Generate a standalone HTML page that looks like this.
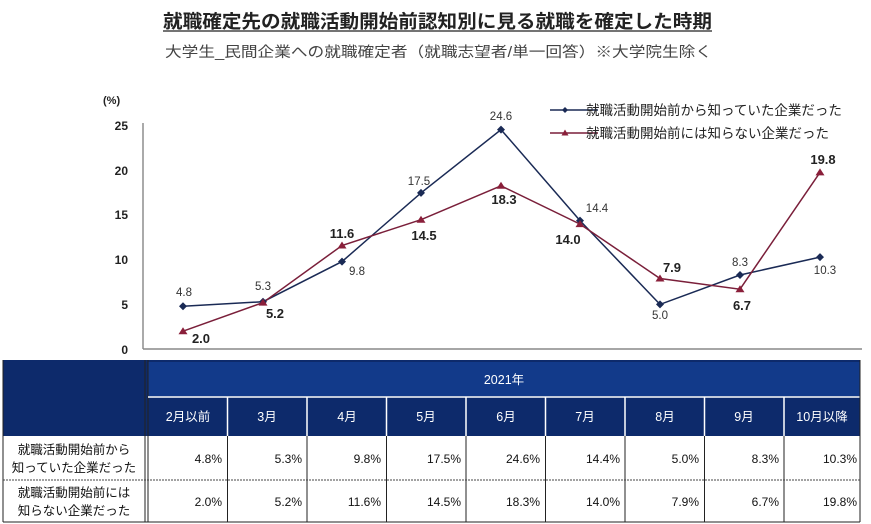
<!DOCTYPE html>
<html><head><meta charset="utf-8"><style>
body{margin:0;background:#fff;width:871px;height:524px;overflow:hidden;font-family:"Liberation Sans","Noto Sans CJK JP",sans-serif;}
svg{position:absolute;left:0;top:0}
</style></head><body>
<svg width="871" height="524" viewBox="0 0 871 524" font-family="Liberation Sans, Noto Sans CJK JP, sans-serif">
<text x="163" y="28" font-size="18.5" font-weight="bold" fill="#222" textLength="549" lengthAdjust="spacingAndGlyphs">就職確定先の就職活動開始前認知別に見る就職を確定した時期</text>
<line x1="163" y1="31" x2="712" y2="31" stroke="#222" stroke-width="1.2"/>
<text x="165" y="57" font-size="14.5" fill="#444" textLength="547" lengthAdjust="spacingAndGlyphs">大学生_民間企業への就職確定者（就職志望者/単一回答）※大学院生除く</text>
<text x="103" y="104" font-size="11" font-weight="bold" fill="#222">(%)</text>
<g font-size="12" font-weight="bold" fill="#222" text-anchor="end">
<text x="128" y="130">25</text><text x="128" y="175">20</text><text x="128" y="219">15</text><text x="128" y="264">10</text><text x="128" y="309">5</text><text x="128" y="354">0</text>
</g>
<line x1="143" y1="123" x2="143" y2="349" stroke="#555" stroke-width="1"/>
<line x1="143" y1="349" x2="862" y2="349" stroke="#888" stroke-width="1.5"/>
<polyline fill="none" stroke="#1a2a55" stroke-width="1.5" points="183,306.2 263,301.7 342,261.6 421,192.9 501,129.6 580,220.6 660,304.4 740,275 820,257.1"/>
<polyline fill="none" stroke="#7a1f3a" stroke-width="1.5" points="183,331.2 263,302.6 342,245.5 421,219.7 501,185.8 580,224.1 660,278.5 740,289.2 820,172.4"/>
<g fill="#1a2a55">
<path d="M183 302.2l4 4-4 4-4-4z"/><path d="M263 297.7l4 4-4 4-4-4z"/><path d="M342 257.6l4 4-4 4-4-4z"/><path d="M421 188.9l4 4-4 4-4-4z"/><path d="M501 125.6l4 4-4 4-4-4z"/><path d="M580 216.6l4 4-4 4-4-4z"/><path d="M660 300.4l4 4-4 4-4-4z"/><path d="M740 271l4 4-4 4-4-4z"/><path d="M820 253.1l4 4-4 4-4-4z"/>
</g>
<g fill="#8a1f3a">
<path d="M183 327.2l4.5 7h-9z"/><path d="M263 298.6l4.5 7h-9z"/><path d="M342 241.5l4.5 7h-9z"/><path d="M421 215.7l4.5 7h-9z"/><path d="M501 181.8l4.5 7h-9z"/><path d="M580 220.1l4.5 7h-9z"/><path d="M660 274.5l4.5 7h-9z"/><path d="M740 285.2l4.5 7h-9z"/><path d="M820 168.4l4.5 7h-9z"/>
</g>
<g font-size="11.5" fill="#333" text-anchor="middle">
<text x="184" y="296">4.8</text><text x="263" y="290">5.3</text><text x="357" y="275">9.8</text><text x="419" y="185">17.5</text><text x="501" y="120">24.6</text><text x="597" y="212">14.4</text><text x="660" y="319">5.0</text><text x="740" y="266">8.3</text><text x="825" y="274">10.3</text>
</g>
<g font-size="13" font-weight="bold" fill="#222" text-anchor="middle">
<text x="201" y="343">2.0</text><text x="275" y="318">5.2</text><text x="342" y="238">11.6</text><text x="424" y="240">14.5</text><text x="504" y="204">18.3</text><text x="568" y="244">14.0</text><text x="672" y="272">7.9</text><text x="742" y="310">6.7</text><text x="823" y="164">19.8</text>
</g>
<line x1="550" y1="110" x2="598" y2="110" stroke="#1a2a55" stroke-width="1.5"/><path d="M565 107l3 3-3 3-3-3z" fill="#1a2a55"/>
<line x1="550" y1="133" x2="598" y2="133" stroke="#7a1f3a" stroke-width="1.5"/><path d="M565 129.5l3.5 6h-7z" fill="#8a1f3a"/>
<text x="586" y="115" font-size="13.5" fill="#222">就職活動開始前から知っていた企業だった</text>
<text x="586" y="138" font-size="13.5" fill="#222">就職活動開始前には知らない企業だった</text>
<rect x="3" y="360" width="857" height="76" fill="#0d2a6b"/>
<rect x="148" y="362" width="712" height="34" fill="#123a8a"/>
<line x1="145" y1="360" x2="145" y2="522" stroke="#222" stroke-width="1"/>
<line x1="148" y1="360" x2="148" y2="522" stroke="#222" stroke-width="1"/>
<line x1="148" y1="397" x2="860" y2="397" stroke="#fff" stroke-width="1.5"/>
<g stroke="#fff" stroke-width="1.5">
<line x1="227.5" y1="397" x2="227.5" y2="436"/><line x1="307" y1="397" x2="307" y2="436"/><line x1="386.5" y1="397" x2="386.5" y2="436"/><line x1="466" y1="397" x2="466" y2="436"/><line x1="545.5" y1="397" x2="545.5" y2="436"/><line x1="625" y1="397" x2="625" y2="436"/><line x1="704.5" y1="397" x2="704.5" y2="436"/><line x1="784" y1="397" x2="784" y2="436"/>
</g>
<g stroke="#222" stroke-width="1">
<line x1="227.5" y1="436" x2="227.5" y2="522"/><line x1="307" y1="436" x2="307" y2="522"/><line x1="386.5" y1="436" x2="386.5" y2="522"/><line x1="466" y1="436" x2="466" y2="522"/><line x1="545.5" y1="436" x2="545.5" y2="522"/><line x1="625" y1="436" x2="625" y2="522"/><line x1="704.5" y1="436" x2="704.5" y2="522"/><line x1="784" y1="436" x2="784" y2="522"/>
<line x1="860" y1="360" x2="860" y2="522"/><line x1="3" y1="360" x2="3" y2="522"/><line x1="3" y1="522" x2="860" y2="522"/>
</g>
<line x1="3" y1="480" x2="860" y2="480" stroke="#444" stroke-width="1" stroke-dasharray="2,1"/>
<text x="504" y="384" font-size="12.5" fill="#fff" text-anchor="middle">2021年</text>
<g font-size="12.5" fill="#fff" text-anchor="middle">
<text x="188" y="421">2月以前</text><text x="267" y="421">3月</text><text x="347" y="421">4月</text><text x="426" y="421">5月</text><text x="506" y="421">6月</text><text x="585" y="421">7月</text><text x="665" y="421">8月</text><text x="744" y="421">9月</text><text x="822" y="421">10月以降</text>
</g>
<g font-size="12.5" fill="#111" text-anchor="middle">
<text x="74" y="454">就職活動開始前から</text><text x="74" y="472">知っていた企業だった</text>
<text x="74" y="497">就職活動開始前には</text><text x="74" y="515">知らない企業だった</text>
</g>
<g font-size="12" fill="#111" text-anchor="end">
<text x="222" y="463">4.8%</text><text x="302" y="463">5.3%</text><text x="381" y="463">9.8%</text><text x="461" y="463">17.5%</text><text x="540" y="463">24.6%</text><text x="620" y="463">14.4%</text><text x="699" y="463">5.0%</text><text x="779" y="463">8.3%</text><text x="857" y="463">10.3%</text>
<text x="222" y="506">2.0%</text><text x="302" y="506">5.2%</text><text x="381" y="506">11.6%</text><text x="461" y="506">14.5%</text><text x="540" y="506">18.3%</text><text x="620" y="506">14.0%</text><text x="699" y="506">7.9%</text><text x="779" y="506">6.7%</text><text x="857" y="506">19.8%</text>
</g>
</svg>
</body></html>
